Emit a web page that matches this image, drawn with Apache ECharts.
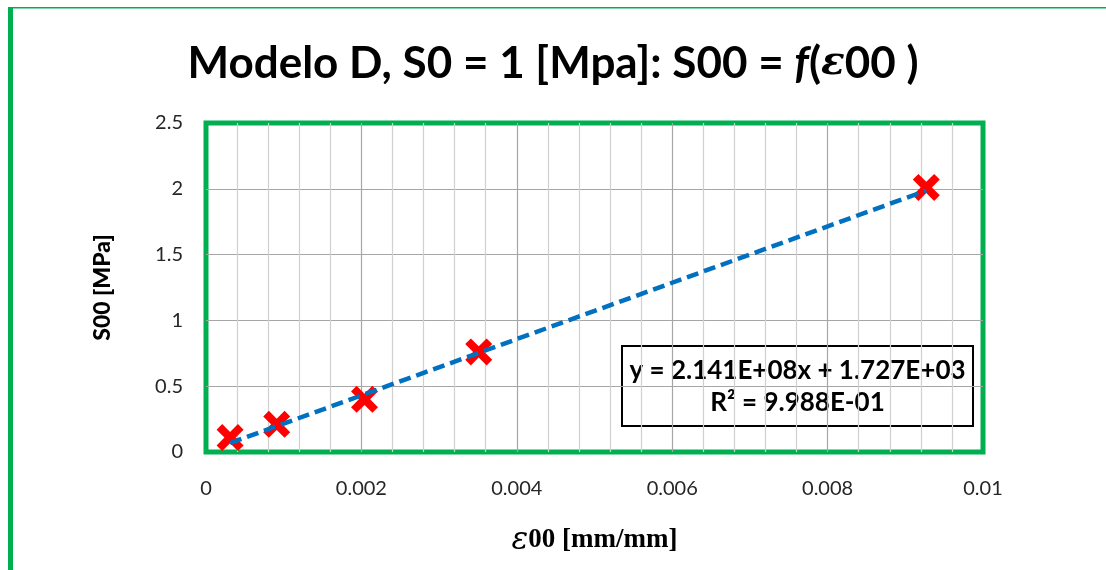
<!DOCTYPE html>
<html>
<head>
<meta charset="utf-8">
<script src="https://cdn.jsdelivr.net/npm/echarts@6/dist/echarts.min.js"></script>
<style>
  html, body { margin: 0; padding: 0; background: #ffffff; }
  #chart { width: 1106px; height: 570px; }
</style>
</head>
<body>
<div id="chart"></div>
<script>
// Measured points: strain ε00 [mm/mm] vs stress S00 [MPa]
const strain = [0.00031, 0.00091, 0.00204, 0.00351, 0.00927];
const stress = [0.11, 0.21, 0.40, 0.76, 2.01];

// Linear trend line as reported (units: Pa)
const trendSlopePa = 2.141e8;
const trendInterceptPa = 1.727e3;
const trendR2Text = 'R² = 9.988E-01';
const trendEqText = 'y = 2.141E+08x + 1.727E+03';

const xTicks = { min: 0, max: 0.01, interval: 0.002 };
const yTicks = { min: 0, max: 2.5, interval: 0.5 };

const GREEN = '#00B050';
const FONT = 'Lato';

// Trend line endpoints span the data range, converted to MPa
const xFirst = Math.min(...strain);
const xLast = Math.max(...strain);
const trendLine = [xFirst, xLast].map(x => [x, (trendSlopePa * x + trendInterceptPa) / 1e6]);

// Thick "X" marker
const crossPath = 'path://M0,5 L5,0 L12,7 L19,0 L24,5 L17,12 L24,19 L19,24 L12,17 L5,24 L0,19 L7,12 Z';

const chart = echarts.init(document.getElementById('chart'), null, { renderer: 'canvas' });

chart.setOption({
  backgroundColor: '#ffffff',
  animation: false,
  title: {
    left: 'center',
    top: 37,
    text: '{n|Modelo D, S0 = 1 [Mpa]: S00 = }{i|f}{n|(}{e|ε}{n|00 )}',
    textStyle: {
      rich: {
        n: { fontFamily: FONT, fontWeight: 'bold', fontSize: 44, color: '#000000' },
        i: { fontFamily: FONT, fontWeight: 'bold', fontStyle: 'italic', fontSize: 44, color: '#000000' },
        e: { fontFamily: 'DejaVu Serif', fontStyle: 'italic', fontSize: 39, color: '#000000' }
      }
    }
  },
  grid: {
    left: 206, top: 123, width: 777, height: 329,
    show: true,
    borderColor: GREEN,
    borderWidth: 5,
    backgroundColor: 'transparent'
  },
  xAxis: {
    type: 'value',
    min: xTicks.min, max: xTicks.max, interval: xTicks.interval,
    name: '{e|ε}{t|00 [mm/mm]}',
    nameLocation: 'middle',
    nameGap: 73,
    nameTextStyle: {
      rich: {
        e: { fontFamily: 'DejaVu Serif', fontStyle: 'italic', fontSize: 31, color: '#000000' },
        t: { fontFamily: 'Liberation Serif', fontWeight: 'bold', fontSize: 27, color: '#000000' }
      }
    },
    axisLine: { show: false },
    axisTick: { show: false },
    axisLabel: {
      margin: 27,
      fontFamily: FONT, fontSize: 20, color: '#262626',
      formatter: v => String(+v.toFixed(4))
    },
    splitLine: { show: true, showMinLine: false, showMaxLine: false, lineStyle: { color: '#A6A6A6', width: 1.2 } },
    minorTick: { show: false, splitNumber: 5 },
    minorSplitLine: { show: true, lineStyle: { color: '#D0D0D0', width: 1.2 } }
  },
  yAxis: {
    type: 'value',
    min: yTicks.min, max: yTicks.max, interval: yTicks.interval,
    name: 'S00 [MPa]',
    nameLocation: 'middle',
    nameGap: 92,
    nameTextStyle: { fontFamily: FONT, fontWeight: 900, fontSize: 23, color: '#000000' },
    axisLine: { show: false },
    axisTick: { show: false },
    axisLabel: {
      margin: 23,
      fontFamily: FONT, fontSize: 20, color: '#262626',
      formatter: v => String(+v.toFixed(1))
    },
    splitLine: { show: true, showMinLine: false, showMaxLine: false, lineStyle: { color: '#A6A6A6', width: 1.2 } }
  },
  series: [
    {
      name: 'Tendencia',
      type: 'line',
      data: trendLine,
      showSymbol: false,
      symbol: 'none',
      lineStyle: { color: '#0070C0', width: 4.5, type: [12, 6] },
      z: 3
    },
    {
      name: 'S00',
      type: 'scatter',
      data: strain.map((x, i) => [x, stress[i]]),
      symbol: crossPath,
      symbolSize: 27,
      itemStyle: { color: '#FF0000', opacity: 1 },
      z: 2
    }
  ],
  graphic: [
    // outer chart frame: thin top edge, thick left edge
    { type: 'rect', shape: { x: 8, y: 7, width: 1098, height: 1.5 }, style: { fill: GREEN }, silent: true },
    { type: 'rect', shape: { x: 8, y: 7, width: 5, height: 563 }, style: { fill: GREEN }, silent: true },
    // trend line equation box
    {
      type: 'group', left: 621, top: 345, z: 10,
      children: [
        { type: 'rect', shape: { x: 0, y: 0, width: 351, height: 80 },
          style: { fill: '#ffffff', stroke: '#000000', lineWidth: 2 } },
        { type: 'text', x: 175.5, y: 25, style: { text: trendEqText, align: 'center', verticalAlign: 'middle',
          font: 'bold 26px Lato', fill: '#000000' } },
        { type: 'text', x: 175.5, y: 57, style: { text: trendR2Text, align: 'center', verticalAlign: 'middle',
          font: 'bold 26px Lato', fill: '#000000' } }
      ]
    }
  ]
});
</script>
</body>
</html>
